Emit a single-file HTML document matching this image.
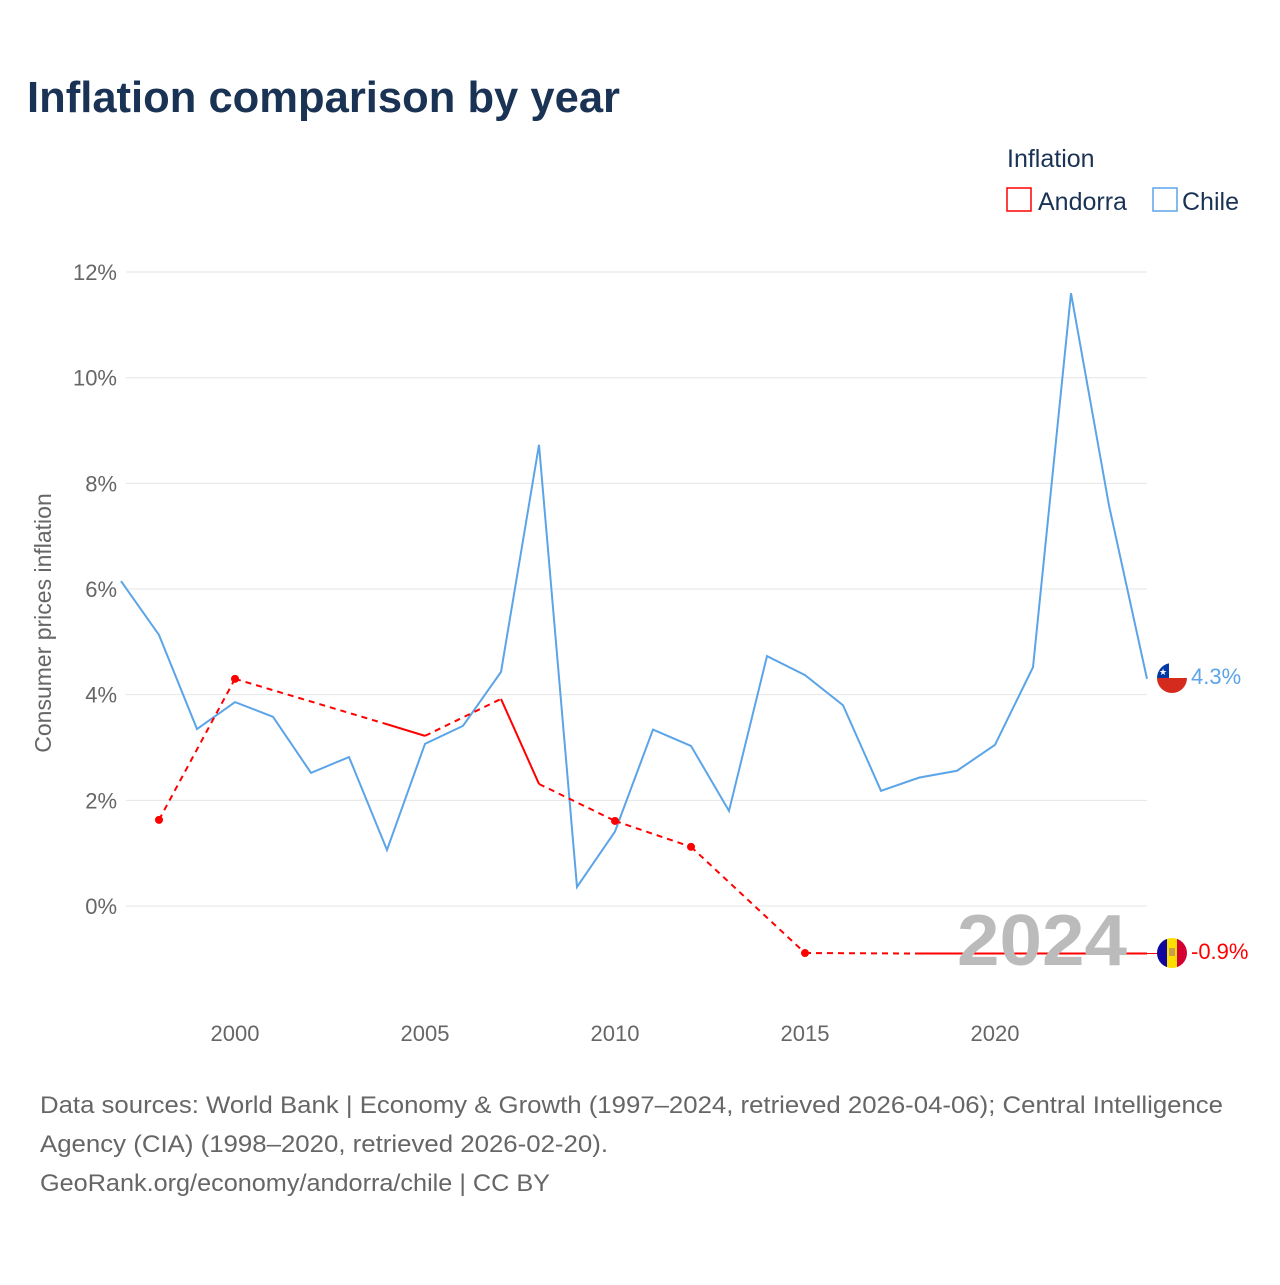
<!DOCTYPE html>
<html><head><meta charset="utf-8"><style>
body{margin:0;background:#fff;font-family:"Liberation Sans",sans-serif;}
svg text{font-family:"Liberation Sans",sans-serif;}
</style></head><body>
<svg id="chart" width="1280" height="1280" viewBox="0 0 1280 1280">
<text x="27" y="112" font-size="44" font-weight="bold" fill="#1a3355" textLength="593" lengthAdjust="spacingAndGlyphs">Inflation comparison by year</text>
<text x="1007" y="167" font-size="25" fill="#1a3355">Inflation</text>
<g><rect x="1007" y="188" width="24" height="23" fill="none" stroke="#ff0000" stroke-width="1.5"/><text x="1038" y="210" font-size="25" fill="#1a3355">Andorra</text></g>
<g><rect x="1153" y="188" width="24" height="23" fill="none" stroke="#5ba4e8" stroke-width="1.5"/><text x="1182" y="210" font-size="25" fill="#1a3355">Chile</text></g>
<g id="grid"></g><g id="xt"></g><g id="series"></g>
<text transform="translate(51,623) rotate(-90)" text-anchor="middle" font-size="23" fill="#666">Consumer prices inflation</text>
<text x="957" y="965" font-size="72" font-weight="bold" fill="#bbb" textLength="170" lengthAdjust="spacingAndGlyphs">2024</text>
<g><clipPath id="c1"><circle cx="1172" cy="678" r="15"/></clipPath><g clip-path="url(#c1)"><rect x="1157" y="663" width="30" height="15" fill="#fff"/><rect x="1157" y="678" width="30" height="15" fill="#d52b1e"/><rect x="1157" y="663" width="12" height="15" fill="#0039a6"/><text x="1163" y="675" text-anchor="middle" font-size="9" fill="#fff">★</text></g></g>
<g><clipPath id="c2"><circle cx="1172" cy="953" r="15"/></clipPath><g clip-path="url(#c2)"><rect x="1157" y="938" width="10" height="30" fill="#10069f"/><rect x="1167" y="938" width="10" height="30" fill="#fedd00"/><rect x="1177" y="938" width="10" height="30" fill="#d50032"/><rect x="1169" y="948" width="6" height="8" fill="#c7a04a"/></g></g>
<text x="1191" y="684" font-size="22" fill="#5ba4e8">4.3%</text>
<text x="1191" y="959" font-size="22" fill="#ff0000">-0.9%</text>
<g font-size="24" fill="#666">
<text x="40" y="1113" textLength="1183" lengthAdjust="spacingAndGlyphs">Data sources: World Bank | Economy &amp; Growth (1997–2024, retrieved 2026-04-06); Central Intelligence</text>
<text x="40" y="1152" textLength="568" lengthAdjust="spacingAndGlyphs">Agency (CIA) (1998–2020, retrieved 2026-02-20).</text>
<text x="40" y="1191" textLength="510" lengthAdjust="spacingAndGlyphs">GeoRank.org/economy/andorra/chile | CC BY</text>
</g>
</svg>
<script>
const yTicks=[0,2,4,6,8,10,12];
const xTicks=[2000,2005,2010,2015,2020];
const chileYears=[1997,1998,1999,2000,2001,2002,2003,2004,2005,2006,2007,2008,2009,2010,2011,2012,2013,2014,2015,2016,2017,2018,2019,2020,2021,2022,2023,2024];
const chileVals=[6.15,5.13,3.35,3.86,3.58,2.52,2.82,1.06,3.07,3.41,4.43,8.73,0.36,1.41,3.34,3.03,1.80,4.73,4.37,3.80,2.18,2.43,2.56,3.05,4.52,11.6,7.58,4.3];
const andYears=[1998,2000,2004,2005,2007,2008,2010,2012,2015,2018,2019,2020,2021,2022,2023,2024];
const andVals=[1.63,4.3,3.44,3.22,3.92,2.31,1.61,1.12,-0.89,-0.9,-0.9,-0.9,-0.9,-0.9,-0.9,-0.9];
const X=y=>121+(y-1997)*38, Y=v=>906-v*52.83;
const NS="http://www.w3.org/2000/svg";
function mk(t,a,p){const e=document.createElementNS(NS,t);for(const k in a)e.setAttribute(k,a[k]);p.appendChild(e);return e;}
const g=document.getElementById('grid');
yTicks.forEach(v=>{
 const l=mk('line',{x1:126,x2:1147,y1:Y(v),y2:Y(v),stroke:'#e6e6e6','stroke-width':1},g);
 
 
 const t=mk('text',{x:117,y:Y(v)+8,'text-anchor':'end','font-size':22,fill:'#666'},g);t.textContent=v+'%';
 
 
});
const xt=document.getElementById('xt');
xTicks.forEach(y=>{
 const t=mk('text',{x:X(y),y:1041,'text-anchor':'middle','font-size':22,fill:'#666'},xt);t.textContent=y;
 
 
});
const s=document.getElementById('series');
const cp=mk('polyline',{points:chileYears.map((y,i)=>X(y)+','+Y(chileVals[i])).join(' '),fill:'none',stroke:'#5ba4e8','stroke-width':2},s);


const rl=mk('line',{x1:X(2024),x2:1172,y1:Y(andVals[andVals.length-1]),y2:Y(andVals[andVals.length-1]),stroke:'#ff0000','stroke-width':1},s);


for(let i=0;i<andYears.length-1;i++){
 const gap=andYears[i+1]-andYears[i]>1;
 const a={x1:X(andYears[i]),y1:Y(andVals[i]),x2:X(andYears[i+1]),y2:Y(andVals[i+1]),stroke:'#ff0000','stroke-width':2};
 if(gap)a['stroke-dasharray']='6,5';
 const l=mk('line',a,s);
 
 
}
andYears.forEach((y,i)=>{
 const pg=i==0||y-andYears[i-1]>1, ng=i==andYears.length-1||andYears[i+1]-y>1;
 if(pg&&ng){const c=mk('circle',{cx:X(y),cy:Y(andVals[i]),r:4,fill:'#ff0000'},s);
 
 }
});
</script>
</body></html>
